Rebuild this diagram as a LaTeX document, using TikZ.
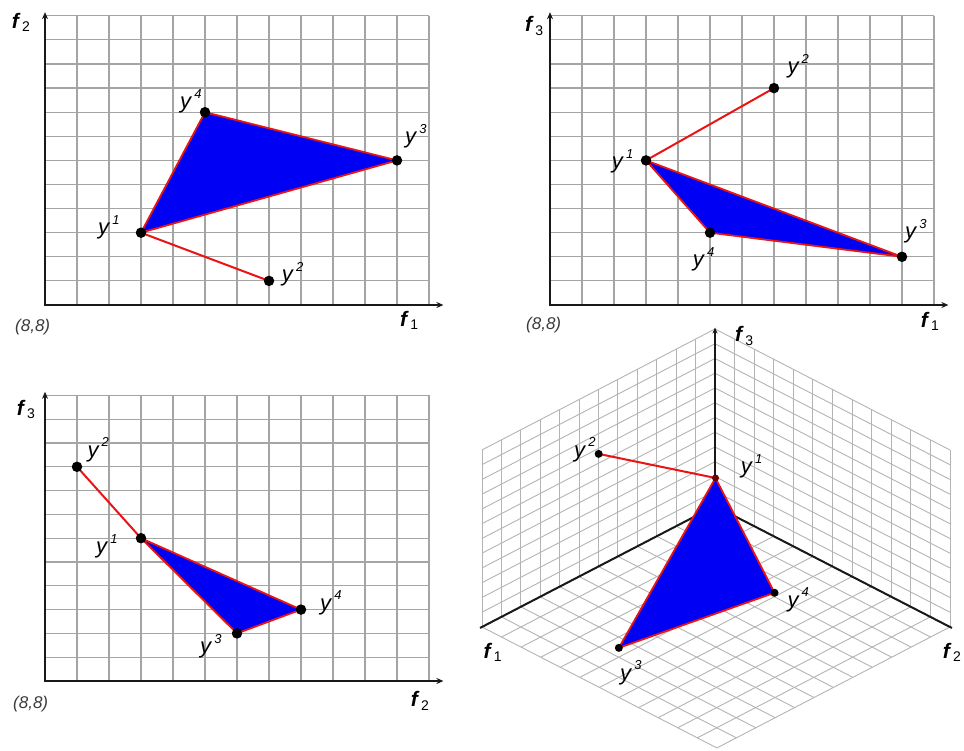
\documentclass[tikz,border=0pt]{standalone}
\usepackage{fontspec}
\setmainfont{Liberation Sans}
\usetikzlibrary{arrows.meta}
\definecolor{gridc}{RGB}{165,165,165}
\definecolor{gridd}{RGB}{180,180,180}
\definecolor{redc}{RGB}{235,20,20}
\definecolor{bluec}{RGB}{0,0,245}
\definecolor{axisc}{RGB}{25,25,25}
\definecolor{labgray}{RGB}{60,60,60}
\definecolor{dkred}{RGB}{110,0,0}
\newcommand{\ylab}[1]{\textit{y}\hspace{2pt}\raisebox{10.5pt}{\fontsize{13}{13}\selectfont\textit{#1}}}
\newcommand{\flab}[1]{\textbf{\textit{f}}\hspace{1.5pt}\raisebox{-3.4pt}{\fontsize{14}{14}\selectfont #1}}
\tikzset{
  gridline/.style={draw=gridc, line width=1.2pt},
  gridthin/.style={draw=gridd, line width=0.9pt},
  axisline/.style={draw=axisc, line width=2.4pt, -{Stealth[length=7pt,width=6pt]}},
  axisthree/.style={draw=axisc, line width=2pt},
  redline/.style={draw=redc, line width=2pt},
  face/.style={fill=bluec, draw=redc, line width=1.8pt, line join=round},
  dot/.style={circle, fill=black, inner sep=0pt, minimum size=10.5pt},
  dotsmall/.style={circle, fill=black, inner sep=0pt, minimum size=8pt},
  ylabel/.style={anchor=base west, inner sep=0pt, font=\fontsize{22}{24}\selectfont},
  flabel/.style={anchor=base west, inner sep=0pt, font=\fontsize{21}{24}\selectfont},
  originlab/.style={anchor=base west, inner sep=0pt, text=labgray, font=\fontsize{17}{19}\selectfont\itshape},
}
\begin{document}
\begin{tikzpicture}[x=1pt,y=-1pt]
\useasboundingbox (0,0) rectangle (964,751);
\fill[white] (0,0) rectangle (964,751);

% ---------------- Panel 1: f1-f2 ----------------
\begin{scope}[shift={(45pt,-305pt)}, x=32pt, y=24.1pt]
  \foreach \i in {1,...,12} {
    \draw[gridline] (\i,0) -- (\i,12);
    \draw[gridline] (0,\i) -- (12,\i);
  }
  \draw[axisline] (0,0) -- (0,12.15);
  \draw[axisline] (-0.03,0) -- (12.45,0);
  \coordinate (pa1) at (3,3);
  \coordinate (pa2) at (7,1);
  \coordinate (pa3) at (11,6);
  \coordinate (pa4) at (5,8);
  \filldraw[face] (pa1) -- (pa4) -- (pa3) -- cycle;
  \draw[redline] (pa1) -- (pa2);
  \node[dot] (da1) at (pa1) {};
  \node[dot] (da2) at (pa2) {};
  \node[dot] (da3) at (pa3) {};
  \node[dot] (da4) at (pa4) {};
\end{scope}
\node[ylabel] (la1) at (98,234.7) {\ylab{1}};
\node[ylabel] (la2) at (281.7,282) {\ylab{2}};
\node[ylabel] (la3) at (405,143.7) {\ylab{3}};
\node[ylabel] (la4) at (180,108.7) {\ylab{4}};
\node[flabel] (fa2) at (11.7,28.3) {\flab{2}};
\node[flabel] (fa1) at (400,326.5) {\flab{1}};
\node[originlab] (oa) at (15,332) {(8,8)};

% ---------------- Panel 2: f1-f3 ----------------
\begin{scope}[shift={(550pt,-305pt)}, x=32pt, y=24.1pt]
  \foreach \i in {1,...,12} {
    \draw[gridline] (\i,0) -- (\i,12);
    \draw[gridline] (0,\i) -- (12,\i);
  }
  \draw[axisline] (0,0) -- (0,12.15);
  \draw[axisline] (-0.03,0) -- (12.45,0);
  \coordinate (pb1) at (3,6);
  \coordinate (pb2) at (7,9);
  \coordinate (pb3) at (11,2);
  \coordinate (pb4) at (5,3);
  \filldraw[face] (pb1) -- (pb4) -- (pb3) -- cycle;
  \draw[redline] (pb1) -- (pb2);
  \node[dot] (db1) at (pb1) {};
  \node[dot] (db2) at (pb2) {};
  \node[dot] (db3) at (pb3) {};
  \node[dot] (db4) at (pb4) {};
\end{scope}
\node[ylabel] (lb1) at (611.7,168.7) {\ylab{1}};
\node[ylabel] (lb2) at (787.3,73.7) {\ylab{2}};
\node[ylabel] (lb3) at (905,238.7) {\ylab{3}};
\node[ylabel] (lb4) at (692.7,267) {\ylab{4}};
\node[flabel] (fb3) at (525,31.7) {\flab{3}};
\node[flabel] (fb1) at (920.7,327.5) {\flab{1}};
\node[originlab] (ob) at (526,330) {(8,8)};

% ---------------- Panel 3: f2-f3 ----------------
\begin{scope}[shift={(45pt,-681pt)}, x=32pt, y=23.8pt]
  \foreach \i in {1,...,12} {
    \draw[gridline] (\i,0) -- (\i,12);
    \draw[gridline] (0,\i) -- (12,\i);
  }
  \draw[axisline] (0,0) -- (0,12.15);
  \draw[axisline] (-0.03,0) -- (12.45,0);
  \coordinate (pc1) at (3,6);
  \coordinate (pc2) at (1,9);
  \coordinate (pc3) at (6,2);
  \coordinate (pc4) at (8,3);
  \filldraw[face] (pc1) -- (pc3) -- (pc4) -- cycle;
  \draw[redline] (pc1) -- (pc2);
  \node[dot] (dc1) at (pc1) {};
  \node[dot] (dc2) at (pc2) {};
  \node[dot] (dc3) at (pc3) {};
  \node[dot] (dc4) at (pc4) {};
\end{scope}
\node[ylabel] (lc1) at (96,553.7) {\ylab{1}};
\node[ylabel] (lc2) at (87.3,457) {\ylab{2}};
\node[ylabel] (lc3) at (200,653.7) {\ylab{3}};
\node[ylabel] (lc4) at (320,610.3) {\ylab{4}};
\node[flabel] (fc3) at (16.7,415) {\flab{3}};
\node[flabel] (fc2) at (410.7,706.7) {\flab{2}};
\node[originlab] (oc) at (13,708) {(8,8)};

% ---------------- Panel 4: 3D ----------------
\begin{scope}[shift={(715pt,-506pt)}, x={(-19.42pt,-10.08pt)}, y={(19.58pt,-10.08pt)}, z={(0pt,14.75pt)}]
  \foreach \i in {0,...,12} {
    % floor
    \draw[gridthin] (\i,0,0) -- (\i,12,0);
    \draw[gridthin] (0,\i,0) -- (12,\i,0);
    % left wall (f1-f3)
    \draw[gridthin] (\i,0,0) -- (\i,0,12);
    \draw[gridthin] (0,0,\i) -- (12,0,\i);
    % right wall (f2-f3)
    \draw[gridthin] (0,\i,0) -- (0,\i,12);
    \draw[gridthin] (0,0,\i) -- (0,12,\i);
  }
  \coordinate (o3) at (0,0,0);
  \coordinate (e1) at (12.1,0,0);
  \coordinate (e2) at (0,12.1,0);
  \coordinate (e3) at (0,0,12.1);
  \draw[axisthree] (o3) -- (e1);
  \draw[axisthree] (o3) -- (e2);
  \draw[axisthree, -{Stealth[length=6pt,width=5pt]}] (o3) -- (e3);
  \coordinate (pd1) at (3,3,6);
  \coordinate (pd2) at (7,1,9);
  \coordinate (pd3) at (11,6,2);
  \coordinate (pd4) at (5,8,3);
  \draw[redline] (pd1) -- (pd2);
  \filldraw[face] (pd1) -- (pd3) -- (pd4) -- cycle;
  \node[dotsmall, fill=dkred, minimum size=7pt] (dd1) at (pd1) {};
  \node[dotsmall] (dd2) at (pd2) {};
  \node[dotsmall] (dd3) at (pd3) {};
  \node[dotsmall] (dd4) at (pd4) {};
\end{scope}
\node[ylabel] (ld1) at (740.7,473.7) {\ylab{1}};
\node[ylabel] (ld2) at (574,457) {\ylab{2}};
\node[ylabel] (ld3) at (620,680) {\ylab{3}};
\node[ylabel] (ld4) at (787.3,607) {\ylab{4}};
\node[flabel] (fd3) at (735,341.7) {\flab{3}};
\node[flabel] (fd1) at (483.3,658) {\flab{1}};
\node[flabel] (fd2) at (942.7,658) {\flab{2}};
\end{tikzpicture}
\end{document}
